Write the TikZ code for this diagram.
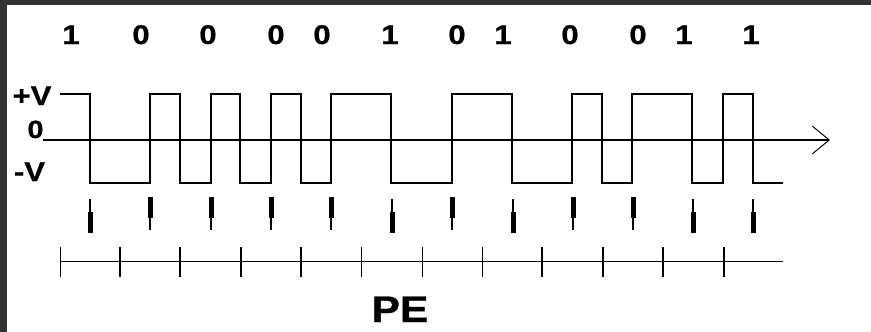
\documentclass[tikz,border=0pt]{standalone}
\usepackage{fontspec}
\setmainfont{Liberation Sans}
\newfontfamily\bitfont{Liberation Sans}[FakeStretch=1.15,BoldFeatures={FakeBold=0.8}]
\usetikzlibrary{arrows.meta}

\begin{document}
\begin{tikzpicture}[x=1pt,y=-1pt,
    bit/.style={anchor=base,inner sep=0pt,font=\bitfont\bfseries\fontsize{27}{27}\selectfont},
    lvl/.style={anchor=base,inner sep=0pt,font=\bitfont\bfseries\fontsize{27}{27}\selectfont},
    wave/.style={line width=2pt},
    stem/.style={line width=1.5pt},
    bar/.style={line width=5pt},
    tick/.style={line width=1pt},
    fattick/.style={line width=2pt}]
  % frame
  \fill[white] (0,0) rectangle (871,332);
  \fill[black!80] (0,0) rectangle (871,5);
  \fill[black!80] (0,0) rectangle (7,332);
  % bits
  \node[bit] (b1) at (71,44) {1};
  \node[bit] (b2) at (141,44) {0};
  \node[bit] (b3) at (208,44) {0};
  \node[bit] (b4) at (276,44) {0};
  \node[bit] (b5) at (322,44) {0};
  \node[bit] (b6) at (390,44) {1};
  \node[bit] (b7) at (457,44) {0};
  \node[bit] (b8) at (503,44) {1};
  \node[bit] (b9) at (570,44) {0};
  \node[bit] (b10) at (638,44) {0};
  \node[bit] (b11) at (684,44) {1};
  \node[bit] (b12) at (751,44) {1};
  % levels
  \node[lvl] (pv) at (32,105) {+V};
  \node[lvl,font=\bitfont\bfseries\fontsize{25}{25}\selectfont] (zero) at (35.5,138) {0};
  \node[lvl] (mv) at (29.5,181) {-V};
  \coordinate (o) at (43,140);
  \coordinate (t) at (830,140);
  \draw[wave,-{Straight Barb[length=17pt,width=28pt,line width=1pt]}] (o) -- (t);
  \draw[wave] (60,94) -- (90,94) -- (90,183) -- (150,183) -- (150,94) -- (180,94) -- (180,183)
    -- (211,183) -- (211,94) -- (240,94) -- (240,183) -- (271,183) -- (271,94) -- (301,94)
    -- (301,183) -- (331,183) -- (331,94) -- (391,94) -- (391,183) -- (452,183) -- (452,94)
    -- (512,94) -- (512,183) -- (572,183) -- (572,94) -- (602,94) -- (602,183) -- (632,183)
    -- (632,94) -- (692,94) -- (692,183) -- (723,183) -- (723,94) -- (753,94) -- (753,183) -- (783,183);
  % clock marks
  \draw[stem] (90,199) -- (90,233); \draw[bar] (90,212) -- (90,233);
  \draw[stem] (150,197) -- (150,230); \draw[bar] (150,197) -- (150,218);
  \draw[stem] (211,197) -- (211,230); \draw[bar] (211,197) -- (211,218);
  \draw[stem] (271,197) -- (271,230); \draw[bar] (271,197) -- (271,218);
  \draw[stem] (331,197) -- (331,230); \draw[bar] (331,197) -- (331,218);
  \draw[stem] (392,199) -- (392,233); \draw[bar] (392,212) -- (392,233);
  \draw[stem] (452,197) -- (452,230); \draw[bar] (452,197) -- (452,218);
  \draw[stem] (513,199) -- (513,233); \draw[bar] (513,212) -- (513,233);
  \draw[stem] (573,197) -- (573,230); \draw[bar] (573,197) -- (573,218);
  \draw[stem] (633,197) -- (633,230); \draw[bar] (633,197) -- (633,218);
  \draw[stem] (693,199) -- (693,233); \draw[bar] (693,212) -- (693,233);
  \draw[stem] (753,199) -- (753,233); \draw[bar] (753,212) -- (753,233);
  % time line
  \draw[tick] (60,261) -- (783,261);
  \draw[tick] (60,247) -- (60,277);
  \draw[fattick] (120,247) -- (120,277);
  \draw[fattick] (180,247) -- (180,277);
  \draw[fattick] (241,247) -- (241,277);
  \draw[fattick] (301,247) -- (301,277);
  \draw[tick] (361,247) -- (361,277);
  \draw[tick] (422,247) -- (422,277);
  \draw[tick] (482,247) -- (482,277);
  \draw[fattick] (542,247) -- (542,277);
  \draw[fattick] (603,247) -- (603,277);
  \draw[fattick] (663,247) -- (663,277);
  \draw[fattick] (724,247) -- (724,277);
  \node[lvl,font=\bitfont\bfseries\fontsize{37}{37}\selectfont] (pe) at (400,322) {PE};
\end{tikzpicture}
\end{document}
